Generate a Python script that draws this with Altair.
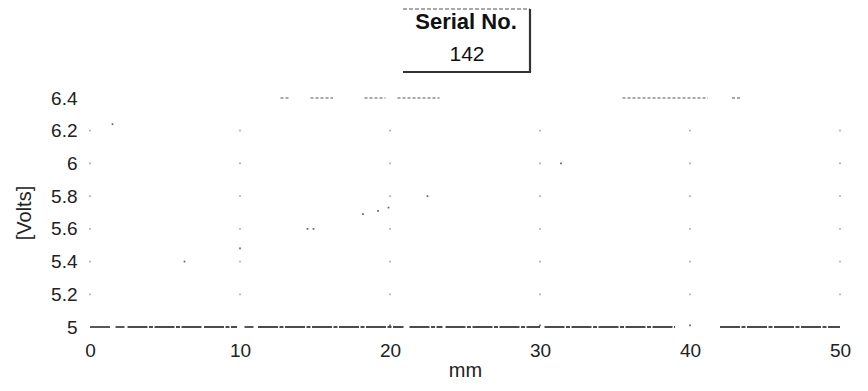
import altair as alt
import pandas as pd

# axis ticks
x_ticks = [0, 10, 20, 30, 40, 50]
y_ticks = [5.0, 5.2, 5.4, 5.6, 5.8, 6.0, 6.2, 6.4]

# scattered measurement specks (mm, Volts)
pt_x = [1.5, 6.3, 10.0, 14.5, 14.9, 18.2, 19.2, 19.9, 22.5, 31.4, 20.0, 30.0, 40.0]
pt_y = [6.24, 5.40, 5.48, 5.60, 5.60, 5.69, 5.71, 5.73, 5.80, 6.00, 5.01, 5.01, 5.01]

# trace segments at the 5 V level
low_start = [0.0, 1.7, 2.5, 7.6, 10.3, 11.2, 21.3, 23.7, 30.3, 42.0]
low_end = [1.4, 2.3, 7.5, 9.8, 10.9, 20.9, 23.5, 30.0, 39.0, 50.0]
# trace segments at the 6.4 V level
top_start = [12.7, 14.7, 18.3, 20.5, 35.5, 42.8]
top_end = [13.3, 16.2, 19.7, 23.3, 41.2, 43.4]

font = "Liberation Sans"

xs = alt.Scale(domain=[0, 50], nice=False, zero=False)
ys = alt.Scale(domain=[5, 6.4], nice=False, zero=False)

grid_df = pd.DataFrame([(x, y) for x in x_ticks for y in y_ticks[1:-1]], columns=["mm", "v"])
pts_df = pd.DataFrame({"mm": pt_x, "v": pt_y})
low_df = pd.DataFrame({"mm": low_start, "b": low_end, "v": [5.0] * len(low_start)})
top_df = pd.DataFrame({"mm": top_start, "b": top_end, "v": [6.4] * len(top_start)})

ax_x = alt.Axis(values=x_ticks, grid=False, domain=False, ticks=False,
                labelFlush=False, labelOverlap=False,
                labelPadding=14, titlePadding=0, labelFontSize=19,
                titleFontSize=20, labelFont=font, titleFont=font,
                titleFontWeight="normal", labelColor="#222", titleColor="#222")
ax_y = alt.Axis(values=y_ticks, grid=False, domain=False, ticks=False,
                labelFlush=False, labelOverlap=False,
                format="~g", labelPadding=13, titlePadding=16,
                labelFontSize=19, titleFontSize=20, labelFont=font,
                titleFont=font, titleFontWeight="normal",
                labelColor="#222", titleColor="#222")


def X():
    return alt.X("mm:Q", scale=xs, title="mm", axis=ax_x)


def Y():
    return alt.Y("v:Q", scale=ys, title="[Volts]", axis=ax_y)


grid = alt.Chart(grid_df).mark_point(shape="square", size=3, filled=True,
                                     color="#9a9a9a", opacity=0.8).encode(x=X(), y=Y())

low = alt.Chart(low_df).mark_rule(color="#111", strokeWidth=1.4,
                                  strokeDash=[20, 1.5, 4, 1.5]).encode(
    x=X(), x2="b:Q", y=Y())
top = alt.Chart(top_df).mark_rule(color="#555", strokeWidth=1.2,
                                  strokeDash=[3, 2]).encode(
    x=X(), x2="b:Q", y=Y())
pts = alt.Chart(pts_df).mark_point(shape="square", size=3, filled=True,
                                   color="#222").encode(x=X(), y=Y())

# Serial number label box (above plot, outside)
one = pd.DataFrame({"k": [0]})
box_top = alt.Chart(one).mark_rule(color="#555", strokeWidth=1.2, strokeDash=[4, 2],
                                   clip=False).encode(
    x=alt.value(313), x2=alt.value(440), y=alt.value(-89))
box_bottom = alt.Chart(one).mark_rule(color="#333", strokeWidth=2.2, clip=False).encode(
    x=alt.value(313), x2=alt.value(441), y=alt.value(-26))
box_right = alt.Chart(one).mark_rule(color="#333", strokeWidth=2.2, clip=False).encode(
    x=alt.value(440), y=alt.value(-89), y2=alt.value(-26))
t1 = alt.Chart(one).mark_text(text="Serial No.", font=font, fontSize=22, fontWeight="bold",
                              color="#111", clip=False).encode(
    x=alt.value(376), y=alt.value(-76))
t2 = alt.Chart(one).mark_text(text="142", font=font, fontSize=21, color="#111",
                              clip=False).encode(
    x=alt.value(377), y=alt.value(-43))

chart = alt.layer(grid, low, top, pts, box_top, box_bottom, box_right, t1, t2).properties(
    width=750, height=229,
    autosize=alt.AutoSizeParams(type="none"),
    padding={"left": 82, "top": 90, "right": 14, "bottom": 56},
).configure_view(strokeWidth=0).configure_axis(labelOverlap=False)

chart.save("out.html", embed_options={"renderer": "svg", "actions": False})
